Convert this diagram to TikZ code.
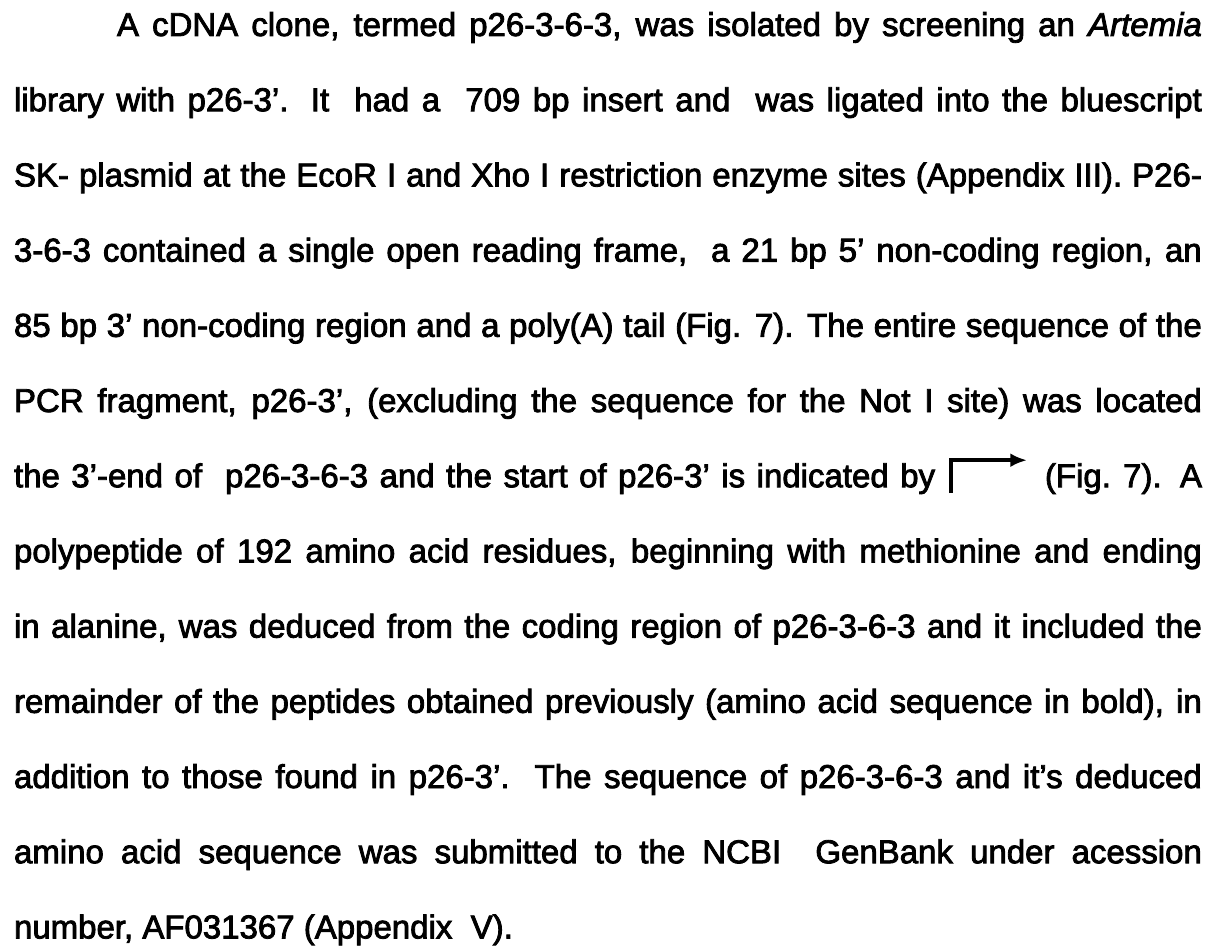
\documentclass[tikz,border=0pt]{standalone}
\usepackage{fontspec}
\setmainfont{Liberation Sans}[FakeBold=2.5]
\usetikzlibrary{calc, positioning, arrows.meta}

% one justified line of the paragraph
\newcommand{\parline}[2]{\makebox[#1][s]{#2}}

\begin{document}
\begin{tikzpicture}[x=0.36364pt, y=-0.36364pt,
    txt/.style={anchor=base west, inner sep=0pt, outer sep=0pt,
                font=\fontsize{12}{14}\selectfont},
    bentarrow/.style={line width=1.3pt, -{Latex[length=6pt, width=5pt]}}]
    \useasboundingbox (0,0) rectangle (1215,949);

    % first line is indented
    \node[txt] (l1) at (117,36) {\parline{394.5pt}{A cDNA clone, termed p26-3-6-3, was isolated by screening an \textit{Artemia}}};
    \node[txt] (l2) at (14,111.2) {\parline{432pt}{library with p26-3'. It\ \ had a\ \ 709 bp insert and\ \ was ligated into the bluescript}};
    \node[txt] (l3) at (14,186.4) {\parline{432pt}{SK- plasmid at the EcoR I and Xho I restriction enzyme sites (Appendix III). P26-}};
    \node[txt] (l4) at (14,261.6) {\parline{432pt}{3-6-3 contained a single open reading frame,\ \ a 21 bp 5' non-coding region, an}};
    \node[txt] (l5) at (14,336.8) {\parline{432pt}{85 bp 3' non-coding region and a poly(A) tail (Fig. 7). The entire sequence of the}};
    \node[txt] (l6) at (14,412) {\parline{432pt}{PCR fragment, p26-3', (excluding the sequence for the Not I site) was located}};

    % line with the start marker
    \node[txt] (l7a) at (14,487.2) {\parline{335pt}{the 3'-end of\ \ p26-3-6-3 and the start of p26-3' is indicated by}};
    \node[txt, anchor=base east] (l7b) at (1202,487.2) {(Fig. 7).\ \ A};
    \coordinate (mk) at ($(l7a.base east)+(16,6)$);
    \coordinate (mkend) at ($(l7b.base west)+(-18,-27)$);
    \draw[bentarrow] (mk) |- (mkend);

    \node[txt] (l8) at (14,562.4) {\parline{432pt}{polypeptide of 192 amino acid residues, beginning with methionine and ending}};
    \node[txt] (l9) at (14,637.6) {\parline{432pt}{in alanine, was deduced from the coding region of p26-3-6-3 and it included the}};
    \node[txt] (l10) at (14,712.8) {\parline{432pt}{remainder of the peptides obtained previously (amino acid sequence in bold), in}};
    \node[txt] (l11) at (14,788) {\parline{432pt}{addition to those found in p26-3'.\ \ The sequence of p26-3-6-3 and it's deduced}};
    \node[txt] (l12) at (14,863.2) {\parline{432pt}{amino acid sequence was submitted to the NCBI\ \ GenBank under acession}};
    \node[txt] (l13) at (14,938.4) {number, AF031367 (Appendix\ \ V).};
\end{tikzpicture}
\end{document}
